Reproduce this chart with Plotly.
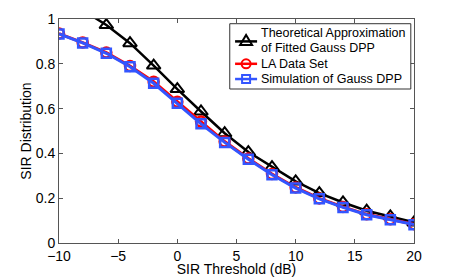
import plotly.graph_objects as go

sir_threshold_db = [-10, -8, -6, -4, -2, 0, 2, 4, 6, 8, 10, 12, 14, 16, 18, 20]
theory_gauss_dpp = [1.10, 1.04, 0.973, 0.892, 0.792, 0.687, 0.587, 0.490, 0.406, 0.339, 0.275, 0.223, 0.181, 0.144, 0.119, 0.092]
la_data_set = [0.935, 0.895, 0.850, 0.790, 0.720, 0.631, 0.542, 0.453, 0.377, 0.308, 0.248, 0.199, 0.161, 0.128, 0.106, 0.084]
sim_gauss_dpp = [0.933, 0.893, 0.847, 0.787, 0.713, 0.624, 0.532, 0.449, 0.374, 0.305, 0.245, 0.197, 0.159, 0.126, 0.104, 0.082]

x_ticks = [-10, -5, 0, 5, 10, 15, 20]
x_tick_labels = ["\u221210", "\u22125", "0", "5", "10", "15", "20"]
y_ticks = [0, 0.2, 0.4, 0.6, 0.8, 1]
y_tick_labels = ["0", "0.2", "0.4", "0.6", "0.8", "1"]

legend_lines = [["Theoretical Approximation", "of Fitted Gauss DPP"], ["LA Data Set"], ["Simulation of Gauss DPP"]]

font_family = "Liberation Sans, Arial, Helvetica, sans-serif"
BLACK, RED, BLUE = "black", "#ff0000", "#3355ff"

fig = go.Figure()
fig.add_trace(go.Scatter(
    x=sir_threshold_db, y=theory_gauss_dpp, mode="lines+markers",
    name=" ".join(legend_lines[0]), showlegend=False,
    line=dict(color=BLACK, width=2.5),
    marker=dict(symbol="triangle-up-open", size=12, color=BLACK, line=dict(width=2)),
))
fig.add_trace(go.Scatter(
    x=sir_threshold_db, y=la_data_set, mode="lines+markers",
    name=legend_lines[1][0], showlegend=False,
    line=dict(color=RED, width=3),
    marker=dict(symbol="circle-open", size=10, color=RED, line=dict(width=2.5)),
))
fig.add_trace(go.Scatter(
    x=sir_threshold_db, y=sim_gauss_dpp, mode="lines+markers",
    name=legend_lines[2][0], showlegend=False,
    line=dict(color=BLUE, width=3),
    marker=dict(symbol="square-open", size=9, color=BLUE, line=dict(width=2.5)),
))

# ---- manual legend box (layout decoration in paper coordinates) ----
shapes = [dict(type="rect", xref="paper", yref="paper", x0=0.481, x1=0.991, y0=0.6875, y1=0.979,
               line=dict(color="#333333", width=1), fillcolor="white", layer="above")]
annotations = []
rows_y = [0.900, 0.800, 0.732]
colors = [BLACK, RED, BLUE]
lx0, lx1, lxc = 0.496, 0.558, 0.527
for ry, c in zip(rows_y, colors):
    shapes.append(dict(type="line", xref="paper", yref="paper", x0=lx0, x1=lx1, y0=ry, y1=ry,
                       line=dict(color=c, width=2.5)))
common = dict(xref="paper", yref="paper", xsizemode="pixel", ysizemode="pixel", xanchor=lxc)
shapes.append(dict(type="path", path="M -6 -3.5 L 6 -3.5 L 0 6.5 Z", yanchor=rows_y[0],
                   line=dict(color=BLACK, width=2), fillcolor="rgba(0,0,0,0)", **common))
shapes.append(dict(type="circle", x0=-4.5, x1=4.5, y0=-4.5, y1=4.5, yanchor=rows_y[1],
                   line=dict(color=RED, width=2), fillcolor="rgba(0,0,0,0)", **common))
shapes.append(dict(type="rect", x0=-4, x1=4, y0=-4, y1=4, yanchor=rows_y[2],
                   line=dict(color=BLUE, width=2), fillcolor="rgba(0,0,0,0)", **common))

text_rows = [(legend_lines[0][0], 0.936), (legend_lines[0][1], 0.870),
             (legend_lines[1][0], 0.800), (legend_lines[2][0], 0.731)]
for t, ty in text_rows:
    annotations.append(dict(text=t, xref="paper", yref="paper", x=0.564, y=ty,
                            xanchor="left", yanchor="middle", showarrow=False,
                            font=dict(size=12.5, color="black", family=font_family)))

axis_common = dict(
    showline=True, linecolor="#555555", linewidth=1, mirror="ticks",
    ticks="inside", ticklen=4, tickcolor="#555555",
    showgrid=False, zeroline=False, automargin=False,
    tickfont=dict(size=14, color="black", family=font_family),
)

fig.update_layout(
    width=457, height=277,
    margin=dict(l=59, r=43, t=19, b=34),
    paper_bgcolor="white", plot_bgcolor="white",
    font=dict(family=font_family, color="black"),
    xaxis=dict(range=[-10, 20], tickvals=x_ticks, ticktext=x_tick_labels,
               title=dict(text="SIR Threshold (dB)", font=dict(size=14), standoff=0), **axis_common),
    yaxis=dict(range=[0, 1], tickvals=y_ticks, ticktext=y_tick_labels,
               title=dict(text="SIR Distribution", font=dict(size=14), standoff=0), **axis_common),
    shapes=shapes,
    annotations=annotations,
    showlegend=False,
)

fig.write_html("out.html", config={"displayModeBar": False},
               post_script="document.body.style.margin='0';document.body.style.overflow='hidden';")
